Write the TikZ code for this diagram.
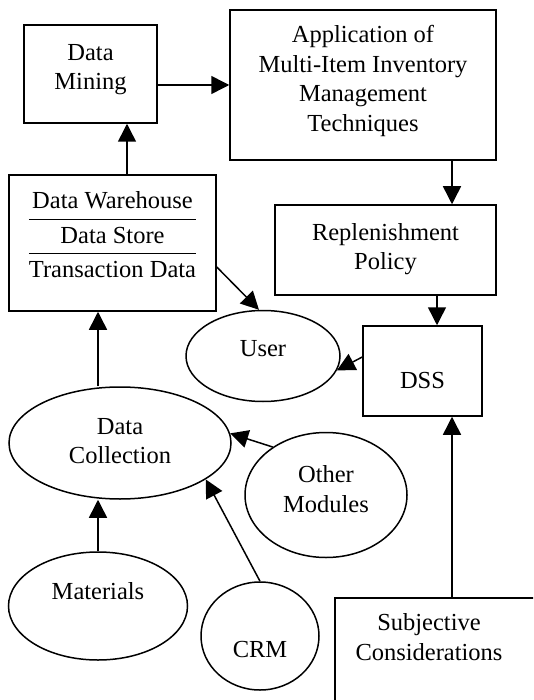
\documentclass[tikz,border=0pt]{standalone}
\usepackage{fontspec}
\setmainfont{Liberation Serif}
\usepackage{tikz}
\usetikzlibrary{positioning, arrows.meta, shapes.geometric}
% shift the text inside its node, keeping the node size
\newcommand{\liftext}[2]{\raisebox{#1}[\height][\depth]{\begin{tabular}{@{}c@{}}#2\end{tabular}}}

\begin{document}
\begin{tikzpicture}[x=1pt, y=-1pt,
    box/.style={draw, line width=1.5pt, inner sep=0pt,
                font=\fontsize{24.5}{29.5}\selectfont},
    oval/.style={draw, ellipse, line width=1.5pt, inner sep=0pt,
                 font=\fontsize{24.5}{29.5}\selectfont},
    arr/.style={-{Triangle[length=18pt, width=18pt]}, line width=1.5pt}
]
\clip (0,0) rectangle (533,700);

% ---- boxes ----
\node[box, minimum width=133, minimum height=98]  (mining) at (90.5,74)  {\liftext{5pt}{Data\\Mining}};
\node[box, minimum width=266, minimum height=150] (app)    at (363,85)   {\liftext{4pt}{Application of\\Multi-Item Inventory\\Management\\Techniques}};
\node[box, minimum width=207, minimum height=136] (store)  at (112.5,243) {\raisebox{6.5pt}[\height][\depth]{\setlength{\tabcolsep}{0pt}\setlength{\arrayrulewidth}{1.5pt}%
    \renewcommand{\arraystretch}{1.11}\begin{tabular}{c}Data Warehouse\\\hline Data Store\\\hline Transaction Data\end{tabular}}};
\node[box, minimum width=221, minimum height=90]  (policy) at (385.5,250) {\liftext{1pt}{Replenishment\\Policy}};
\node[box, minimum width=119, minimum height=90]  (dss)    at (422.5,371) {\liftext{-12pt}{DSS}};
\node[box, minimum width=240, minimum height=140, anchor=north west] (subj) at (334,597) {};
\node[font=\fontsize{24.5}{29.5}\selectfont] (subjtxt) at (429,639.5) {\liftext{0pt}{Subjective\\Considerations}};

% ---- ovals ----
\node[oval, minimum width=154, minimum height=91]  (user)  at (263,356) {\liftext{5pt}{User}};
\node[oval, minimum width=222, minimum height=112] (coll)  at (120,443) {\liftext{0pt}{Data\\Collection}};
\node[oval, minimum width=162, minimum height=125] (other) at (326,495) {\liftext{3.5pt}{Other\\Modules}};
\node[oval, minimum width=179, minimum height=108] (mat)   at (98,606)  {\liftext{12pt}{Materials}};
\node[oval, minimum width=118, minimum height=108] (crm)   at (260,636) {\liftext{-16pt}{CRM}};

% ---- arrows ----
\draw[arr] (mining.east |- app) -- (app.west);
\draw[arr] ([xshift=14.5]store.north) -- ([xshift=14.5]store.north |- mining.south);
\draw[arr] ([xshift=89]app.south) -- ([xshift=89]app.south |- policy.north);
\draw[arr] ([xshift=14.5]dss.north |- policy.south) -- ([xshift=14.5]dss.north);
\draw[arr] ([xshift=29.5]dss.south |- subj.north) -- ([xshift=29.5]dss.south);
\draw[arr] ([yshift=-24]store.east) -- (user.95);
\draw[arr] ([yshift=14]dss.west) -- (user.-11);
\draw[arr] ([xshift=-14.5]store.south |- coll.north) -- ([xshift=-14.5]store.south);
\draw[arr] (mat.north) -- (mat.north |- coll.south);
\draw[arr] (other.138) -- (coll.5);
\draw[arr] (crm.north) -- (coll.-23);

\end{tikzpicture}
\end{document}
